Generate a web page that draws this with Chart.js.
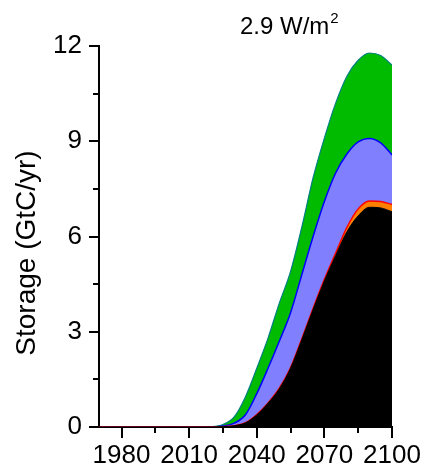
<!DOCTYPE html>
<html>
<head>
<meta charset="utf-8">
<script src="https://cdn.jsdelivr.net/npm/chart.js@4/dist/chart.umd.min.js"></script>
<style>
  html, body { margin: 0; padding: 0; background: #fff; }
  #wrap { width: 426px; height: 467px; }
</style>
</head>
<body>
<div id="wrap"><canvas id="chart" width="426" height="467"></canvas></div>
<script>
// data (GtC/yr, each layer's own amount, stacked)
const years = [1970, 1975, 1980, 1985, 1990, 1995, 2000, 2005, 2010, 2015, 2020, 2025, 2030, 2035,
  2040, 2045, 2050, 2055, 2060, 2065, 2070, 2075, 2080, 2085, 2090, 2095, 2100];
const blackLayer = [0, 0, 0, 0, 0, 0, 0, 0, 0, 0, 0, 0.01, 0.04, 0.13,
  0.38, 0.75, 1.2, 1.85, 2.75, 3.7, 4.6, 5.4, 6.15, 6.65, 6.92, 6.9, 6.78];
const orangeLayer = [0, 0, 0, 0, 0, 0, 0, 0, 0, 0, 0, 0, 0, 0.005,
  0.01, 0.01, 0.02, 0.02, 0.03, 0.04, 0.05, 0.08, 0.14, 0.22, 0.2, 0.2, 0.23];
const blueLayer = [0, 0, 0, 0, 0, 0, 0, 0, 0, 0, 0, 0.02, 0.08, 0.25,
  0.66, 1.09, 1.48, 1.73, 2.02, 2.26, 2.45, 2.52, 2.31, 2.11, 1.97, 1.85, 1.56];
const greenLayer = [0, 0, 0, 0, 0, 0, 0, 0, 0, 0, 0.01, 0.05, 0.2, 0.57,
  0.8, 0.95, 1.2, 1.3, 1.5, 1.85, 2.0, 2.2, 2.45, 2.57, 2.69, 2.75, 2.83];

const xTicks = [1980, 2010, 2040, 2070, 2100];
const xMinorTicks = [1995, 2025, 2055, 2085];
const yTicks = [0, 3, 6, 9, 12];
const yMinorTicks = [1.5, 4.5, 7.5, 10.5];

const FONT = '"Liberation Sans", Arial, sans-serif';

function pts(arr) {
  return years.map((y, i) => ({ x: y, y: arr[i] }));
}

function layer(arr, fillCol, lineCol, lw, fill) {
  return {
    data: pts(arr),
    backgroundColor: fillCol,
    borderColor: lineCol,
    borderWidth: lw,
    fill: fill,
    pointRadius: 0,
    tension: 0.4,
    cubicInterpolationMode: 'monotone'
  };
}

// tick marks, title and y label
const decor = {
  id: 'decor',
  afterDraw(chart) {
    const ctx = chart.ctx;
    const xs = chart.scales.x, ys = chart.scales.y;
    const area = chart.chartArea;
    ctx.save();
    ctx.strokeStyle = '#000';
    ctx.lineWidth = 2;
    ctx.beginPath();
    xTicks.forEach(v => {
      const px = Math.round(xs.getPixelForValue(v));
      ctx.moveTo(px, area.bottom); ctx.lineTo(px, area.bottom + 11);
    });
    xMinorTicks.forEach(v => {
      const px = Math.round(xs.getPixelForValue(v));
      ctx.moveTo(px, area.bottom); ctx.lineTo(px, area.bottom + 6);
    });
    yTicks.forEach(v => {
      const py = Math.round(ys.getPixelForValue(v));
      ctx.moveTo(area.left, py); ctx.lineTo(area.left - 10, py);
    });
    yMinorTicks.forEach(v => {
      const py = Math.round(ys.getPixelForValue(v));
      ctx.moveTo(area.left, py); ctx.lineTo(area.left - 6, py);
    });
    ctx.stroke();

    ctx.fillStyle = '#000';
    ctx.textBaseline = 'alphabetic';
    ctx.textAlign = 'left';
    ctx.font = '24px ' + FONT;
    const t = '2.9 W/m';
    ctx.fillText(t, 240, 34);
    const w = ctx.measureText(t).width;
    ctx.font = '15px ' + FONT;
    ctx.fillText('2', 240 + w + 1, 23);

    ctx.translate(27, 253);
    ctx.rotate(-Math.PI / 2);
    ctx.textAlign = 'center';
    ctx.textBaseline = 'middle';
    ctx.font = '28px ' + FONT;
    ctx.fillText('Storage (GtC/yr)', 0, 0);
    ctx.restore();
  }
};

new Chart(document.getElementById('chart'), {
  type: 'line',
  data: {
    datasets: [
      layer(blackLayer, '#000000', '#000000', 1, 'origin'),
      layer(orangeLayer, '#FF8000', '#FF0000', 1.5, '-1'),
      layer(blueLayer, '#8080FF', '#0000FF', 1.5, '-1'),
      layer(greenLayer, '#00BB00', '#008080', 1.2, '-1')
    ]
  },
  options: {
    responsive: false,
    animation: false,
    layout: { padding: { left: 0, right: 34, top: 46, bottom: 0 } },
    plugins: { legend: { display: false }, tooltip: { enabled: false } },
    scales: {
      x: {
        type: 'linear',
        min: 1970,
        max: 2100,
        afterBuildTicks: s => { s.ticks = xTicks.map(v => ({ value: v })); },
        afterFit: s => { s.height = 40; s.paddingLeft = 0; s.paddingRight = 0; },
        grid: { display: false },
        border: { display: true, color: '#000', width: 2 },
        ticks: {
          autoSkip: false,
          maxRotation: 0,
          padding: 5,
          color: '#000',
          font: { family: FONT, size: 26 },
          callback: v => String(v)
        }
      },
      y: {
        stacked: true,
        min: 0,
        max: 12,
        afterBuildTicks: s => { s.ticks = yTicks.map(v => ({ value: v })); },
        afterFit: s => { s.width = 99; s.paddingTop = 0; s.paddingBottom = 0; },
        grid: { display: false },
        border: { display: true, color: '#000', width: 2 },
        ticks: {
          padding: 9,
          color: '#000',
          font: { family: FONT, size: 26 },
          callback: v => String(v)
        }
      }
    }
  },
  plugins: [decor]
});
</script>
</body>
</html>
